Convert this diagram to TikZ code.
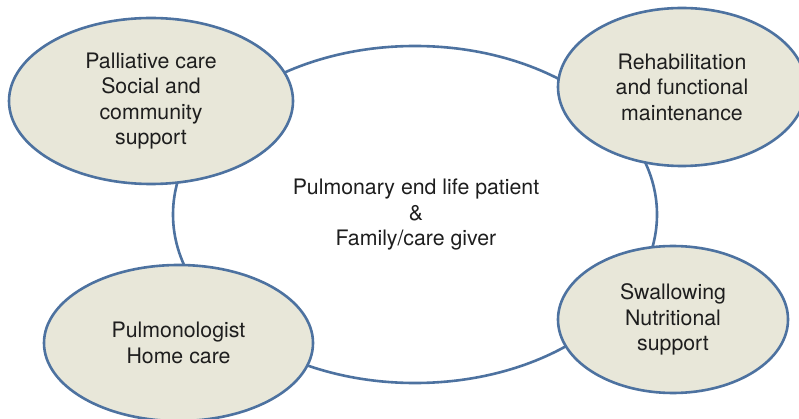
\documentclass[tikz,border=0pt]{standalone}
\usepackage{fontspec}
\setmainfont{TeX Gyre Heros}
\usetikzlibrary{shapes.geometric}
\definecolor{rim}{HTML}{4D72A0}
\definecolor{pad}{HTML}{E8E7D9}
\definecolor{ink}{HTML}{1E1E1E}
\begin{document}
\begin{tikzpicture}[x=1pt,y=-1pt,
  hub/.style={ellipse,draw=rim,line width=2.6pt,inner sep=0pt},
  sat/.style={ellipse,draw=rim,fill=pad,line width=2.6pt,inner sep=0pt},
  lbl/.style={align=center,text=ink,font=\fontsize{21.3}{25.5}\selectfont}]
\useasboundingbox (0,0) rectangle (799,419);
\fill[white] (0,0) rectangle (799,419);
% central circle of care
\node[hub,minimum width=484pt,minimum height=337pt] (core) at (415,214.5) {};
\node[lbl] (coretext) at (416,215) {Pulmonary end life patient\\\&\\Family/care giver};
% surrounding services
\node[sat,minimum width=284pt,minimum height=166pt] (pall) at (151,101) {};
\node[lbl] at (pall.center) {Palliative care\\Social and\\community\\support};
\node[sat,minimum width=248pt,minimum height=158pt] (rehab) at (682,87) {};
\node[lbl] at (rehab.center) {Rehabilitation\\and functional\\maintenance};
\node[sat,minimum width=269pt,minimum height=156pt] (pulm) at (178.5,343) {};
\node[lbl] at (pulm.center) {Pulmonologist\\Home care};
\node[sat,minimum width=230pt,minimum height=147pt] (swal) at (673,319.5) {};
\node[lbl] at (swal.center) {Swallowing\\Nutritional\\support};
\end{tikzpicture}
\end{document}
